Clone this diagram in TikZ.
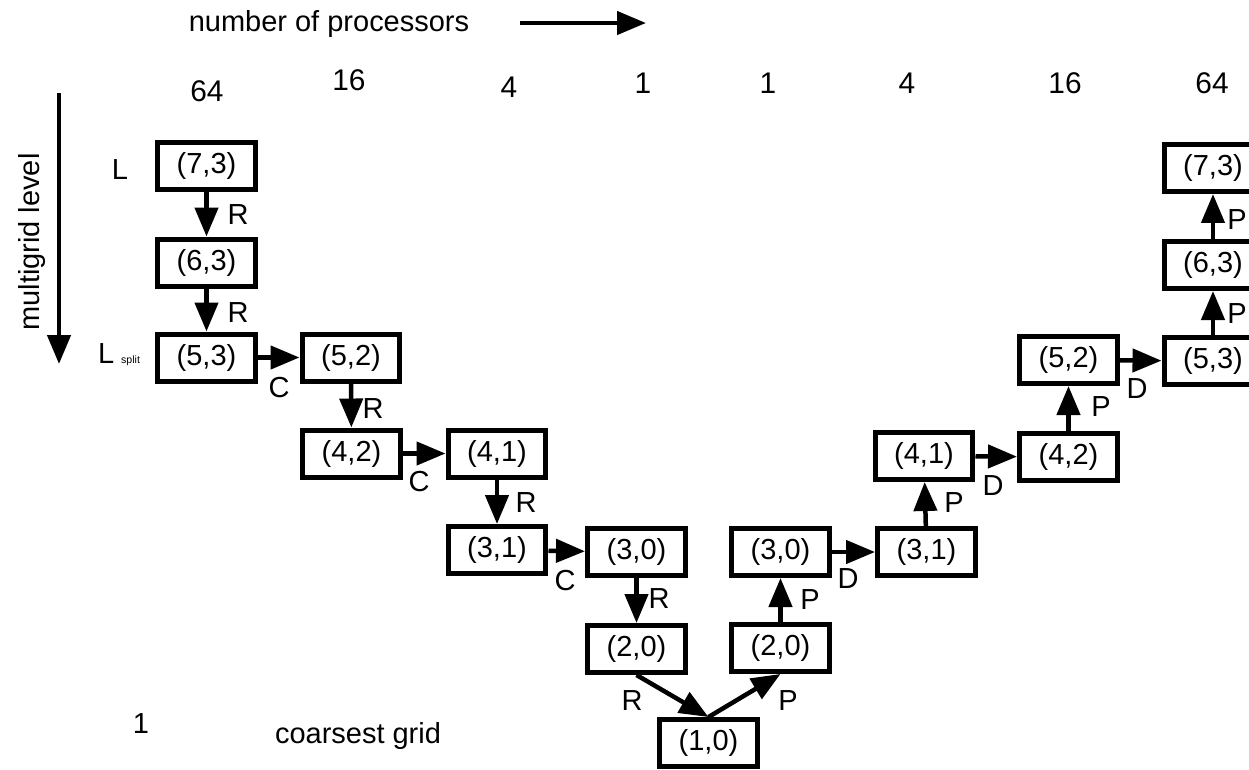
\documentclass[tikz,border=0pt]{standalone}
\usepackage{fontspec}
\setmainfont{Liberation Sans}
\usetikzlibrary{arrows.meta}
\begin{document}
\begin{tikzpicture}[x=0.02cm,y=-0.02cm,
  box/.style={draw,line width=0.1cm,minimum width=1.96cm,minimum height=0.94cm,inner sep=0pt,font=\fontsize{16.5}{19}\selectfont},
  lbl/.style={font=\fontsize{16.5}{19}\selectfont,inner sep=0pt},
  num/.style={font=\fontsize{17}{20}\selectfont,inner sep=0pt},
  arr/.style={line width=0.09cm,-{Triangle[length=0.58cm,width=0.46cm]}}]
\fill[white] (0,0) rectangle (1249,769);
\useasboundingbox (0,0) rectangle (1249,769);

% header
\node[lbl] (nop) at (329,24) {number of processors};
\coordinate (hA) at (520,23);
\coordinate (hB) at (646,23);
\draw[arr] (hA) -- (hB);

\node[num] (n1) at (207,91) {64};
\node[num] (n2) at (349,80) {16};
\node[num] (n3) at (509,87) {4};
\node[num] (n4) at (643,83) {1};
\node[num] (n5) at (768,83) {1};
\node[num] (n6) at (907,83) {4};
\node[num] (n7) at (1065,83) {16};
\node[num] (n8) at (1212,83) {64};

% side axis
\node[lbl,rotate=90] (mgl) at (32,242) {multigrid level};
\coordinate (vA) at (59,93);
\coordinate (vB) at (59,364);
\draw[arr] (vA) -- (vB);
\node[lbl] (lL) at (120,170) {L};
\node[lbl] (lS) at (119,355) {L\hspace{4pt}{\fontsize{6}{7}\selectfont split}};
\node[lbl] (one) at (141,724) {1};
\node[lbl,anchor=base] (cg) at (358,743) {coarsest grid};

% left branch
\node[box] (a73) at (206.5,166) {(7,3)};
\node[box] (a63) at (206.5,262.5) {(6,3)};
\node[box] (a53) at (206.5,357.5) {(5,3)};
\node[box] (a52) at (351,357.5) {(5,2)};
\node[box] (a42) at (351.5,453.5) {(4,2)};
\node[box] (a41) at (497,453.5) {(4,1)};
\node[box] (a31) at (497,550) {(3,1)};
\node[box] (a30) at (636.5,552) {(3,0)};
\node[box] (a20) at (636.5,649) {(2,0)};
\node[box] (a10) at (708.5,743) {(1,0)};
% right branch
\node[box] (b20) at (780.5,648) {(2,0)};
\node[box] (b30) at (780.5,552) {(3,0)};
\node[box] (b31) at (926.5,552) {(3,1)};
\node[box] (b41) at (924,456) {(4,1)};
\node[box] (b42) at (1068.5,457) {(4,2)};
\node[box] (b52) at (1068.5,360) {(5,2)};
\node[box] (b53) at (1213,361) {(5,3)};
\node[box] (b63) at (1213,265) {(6,3)};
\node[box] (b73) at (1213,168) {(7,3)};

% connectors
\draw[arr] (a73) -- (a63);
\draw[arr] (a63) -- (a53);
\draw[arr] (a53) -- (a52);
\draw[arr] (a52) -- (a42);
\draw[arr] (a42) -- (a41);
\draw[arr] (a41) -- (a31);
\draw[arr] (a31) -- (a30);
\draw[arr] (a30) -- (a20);
\draw[arr] (a20.south) -- (a10.north);
\draw[arr] (a10.north) -- (b20.south);
\draw[arr] (b20) -- (b30);
\draw[arr] (b30) -- (b31);
\draw[arr] (b31) -- (b41);
\draw[arr] (b41) -- (b42);
\draw[arr] (b42) -- (b52);
\draw[arr] (b52) -- (b53);
\draw[arr] (b53) -- (b63);
\draw[arr] (b63) -- (b73);

% connector labels
\node[lbl] (r1) at (238,215) {R};
\node[lbl] (r2) at (238,313) {R};
\node[lbl] (c1) at (279,388) {C};
\node[lbl] (r3) at (373,409) {R};
\node[lbl] (c2) at (419,482) {C};
\node[lbl] (r4) at (526,503) {R};
\node[lbl] (c3) at (565,581) {C};
\node[lbl] (r5) at (659,599) {R};
\node[lbl] (r6) at (632,701) {R};
\node[lbl] (p1) at (788,701) {P};
\node[lbl] (p2) at (810,600) {P};
\node[lbl] (d1) at (848,579) {D};
\node[lbl] (p3) at (954,503) {P};
\node[lbl] (d2) at (993,486) {D};
\node[lbl] (p4) at (1101,407) {P};
\node[lbl] (d3) at (1137,389) {D};
\node[lbl] (p5) at (1237,314) {P};
\node[lbl] (p6) at (1237,220) {P};
\end{tikzpicture}
\end{document}
